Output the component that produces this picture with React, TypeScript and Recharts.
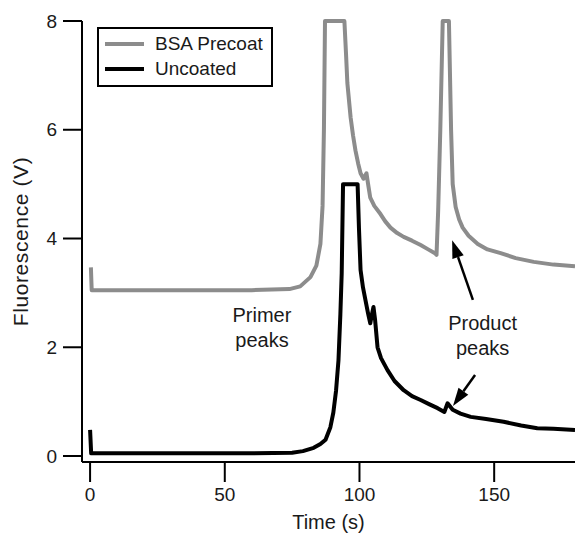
import React from 'react';
import { LineChart, Line, XAxis, YAxis, Legend, ReferenceDot, ReferenceLine, Label } from 'recharts';

const bsaPrecoat: [number, number][] = [
  [0.3, 3.47], [0.6, 3.05], [30, 3.05], [60, 3.05], [74, 3.07], [78, 3.12], [81.8, 3.29], [84, 3.5],
  [85.5, 3.9], [86.3, 4.6], [86.8, 6], [87.2, 8], [94.4, 8], [95, 7.4], [95.5, 6.86], [96.7, 6.23],
  [97.6, 5.9], [98.5, 5.62], [99.5, 5.38], [100.4, 5.2], [101.5, 5.1], [102.6, 5.2], [103.2, 5.0],
  [104, 4.75], [105.5, 4.6], [107.8, 4.45], [109.5, 4.32], [111.5, 4.2], [114, 4.1], [116.4, 4.03],
  [119.5, 3.96], [122.7, 3.88], [125.5, 3.8], [128, 3.73], [128.6, 3.7], [129.2, 4.5],
  [130, 6], [130.9, 8], [133.2, 8], [133.6, 7], [134, 6], [134.6, 5.0], [135.7, 4.58], [137, 4.35],
  [138.3, 4.2], [140.5, 4.05], [143.9, 3.9], [147.5, 3.8], [152.4, 3.73], [158, 3.64], [164.7, 3.57],
  [172, 3.52], [180, 3.49],
];

const uncoated: [number, number][] = [
  [0, 0.48], [0.4, 0.05], [30, 0.05], [60, 0.05], [75, 0.06], [79, 0.09], [83, 0.15], [85.5, 0.22],
  [87.4, 0.3], [89.2, 0.53], [90.3, 0.8], [91.3, 1.2], [92.2, 1.76], [92.9, 2.6], [93.4, 3.36],
  [93.9, 5.0], [99.3, 5.0], [99.8, 4.2], [100.4, 3.42], [101.3, 3.1], [102.2, 2.87], [103.2, 2.62],
  [104, 2.44], [104.6, 2.6], [105.2, 2.74], [105.8, 2.5], [106.7, 2.0], [108, 1.8], [110.4, 1.58],
  [113, 1.38], [116.4, 1.21], [119.5, 1.1], [122.7, 1.03], [126, 0.95], [129, 0.88], [131.5, 0.81],
  [132.7, 0.97], [134.6, 0.85], [137.5, 0.78], [141.3, 0.72], [147, 0.68], [153.5, 0.63],
  [160, 0.56], [166, 0.51], [172, 0.5], [180, 0.48],
];

const xTicks = [0, 50, 100, 150];
const yTicks = [0, 2, 4, 6, 8];

const seriesNames = ['BSA Precoat', 'Uncoated'];
const seriesColors = ['#8c8c8c', '#000000'];

const toRows = (arr: [number, number][]) => arr.map(([t, v]) => ({ t, v }));

const FONT = '"Liberation Sans", Arial, Helvetica, sans-serif';
const TEXT = '#1a1a1a';

const LegendBox = (props: any) => {
  const payload = props.payload || [];
  return (
    <div
      style={{
        border: '2px solid #000',
        padding: '2px 6px 4px 6px',
        width: 176,
        boxSizing: 'border-box',
        whiteSpace: 'nowrap',
        background: '#fff',
        fontFamily: FONT,
        fontSize: 19,
        color: TEXT,
      }}
    >
      {payload.map((p: any) => (
        <div key={p.value} style={{ display: 'flex', alignItems: 'center', height: 25 }}>
          <div style={{ width: 39, height: 4, background: p.color, marginRight: 11, flex: 'none' }} />
          <span style={{ lineHeight: '25px' }}>{p.value}</span>
        </div>
      ))}
    </div>
  );
};

const arrowShape = (props: any) => {
  const { x1, y1, x2, y2 } = props;
  if ([x1, y1, x2, y2].some((v) => typeof v !== 'number' || isNaN(v))) return <g />;
  const dx = x2 - x1;
  const dy = y2 - y1;
  const len = Math.sqrt(dx * dx + dy * dy);
  const ux = dx / len;
  const uy = dy / len;
  const headL = 18;
  const headW = 6;
  const bx = x2 - ux * headL;
  const by = y2 - uy * headL;
  const px = -uy;
  const py = ux;
  return (
    <g>
      <line x1={x1} y1={y1} x2={bx} y2={by} stroke="#000" strokeWidth={2.5} />
      <polygon
        points={`${x2},${y2} ${bx + px * headW},${by + py * headW} ${bx - px * headW},${by - py * headW}`}
        fill="#000"
      />
    </g>
  );
};

const textShape = (lines: string[]) => (props: any) => {
  const { cx, cy } = props;
  return (
    <text x={cx} y={cy} textAnchor="middle" fontFamily={FONT} fontSize={20} fill={TEXT}>
      {lines.map((l, i) => (
        <tspan key={i} x={cx} dy={i === 0 ? 0 : 25}>
          {l}
        </tspan>
      ))}
    </text>
  );
};

const YLabel = (props: any) => {
  const vb = props.viewBox || { x: 0, y: 0, width: 0, height: 0 };
  const cx = vb.x + 20;
  const cy = vb.y + vb.height / 2;
  return (
    <text
      x={cx}
      y={cy}
      transform={`rotate(-90, ${cx}, ${cy})`}
      textAnchor="middle"
      dominantBaseline="central"
      fontFamily={FONT}
      fontSize={21}
      letterSpacing={0.6}
      fill={TEXT}
    >
      Fluorescence (V)
    </text>
  );
};

export default function App() {
  return (
    <div style={{ position: 'absolute', left: 0, top: 0, background: '#fff' }}>
      <LineChart width={575} height={533} margin={{ top: 21, right: 0, bottom: 0, left: 0 }}>
        <XAxis
          type="number"
          dataKey="t"
          domain={[-3, 180]}
          ticks={xTicks}
          tickSize={20}
          tickMargin={6}
          height={71}
          axisLine={{ stroke: '#000', strokeWidth: 2 }}
          tickLine={{ stroke: '#000', strokeWidth: 2 }}
          tick={{ fill: TEXT, fontSize: 19, fontFamily: FONT }}
        >
          <Label
            value="Time (s)"
            position="insideBottom"
            offset={4}
            style={{ fill: TEXT, fontSize: 20, fontFamily: FONT }}
          />
        </XAxis>
        <YAxis
          type="number"
          dataKey="v"
          domain={[-0.11, 8]}
          ticks={yTicks}
          tickSize={19}
          tickMargin={6}
          width={82}
          axisLine={{ stroke: '#000', strokeWidth: 2 }}
          tickLine={{ stroke: '#000', strokeWidth: 2 }}
          tick={{ fill: TEXT, fontSize: 19, fontFamily: FONT }}
        >
          <Label content={<YLabel />} />
        </YAxis>
        <Legend
          layout="vertical"
          align="center"
          verticalAlign="middle"
          wrapperStyle={{ top: 27, left: 97, width: 'auto', height: 'auto' }}
          content={<LegendBox />}
        />
        <Line
          data={toRows(bsaPrecoat)}
          dataKey="v"
          name={seriesNames[0]}
          stroke={seriesColors[0]}
          strokeWidth={4}
          strokeLinejoin="round"
          dot={false}
          activeDot={false}
          type="linear"
          isAnimationActive={false}
        />
        <Line
          data={toRows(uncoated)}
          dataKey="v"
          name={seriesNames[1]}
          stroke={seriesColors[1]}
          strokeWidth={4}
          strokeLinejoin="round"
          dot={false}
          activeDot={false}
          type="linear"
          isAnimationActive={false}
        />
        <ReferenceDot x={63.8} y={2.46} r={0} shape={textShape(['Primer', 'peaks'])} />
        <ReferenceDot x={145.7} y={2.32} r={0} shape={textShape(['Product', 'peaks'])} />
        <ReferenceLine
          segment={[{ x: 142.1, y: 2.87 }, { x: 134.4, y: 3.97 }]}
          shape={arrowShape}
        />
        <ReferenceLine
          segment={[{ x: 142.9, y: 1.49 }, { x: 134.7, y: 0.92 }]}
          shape={arrowShape}
        />
      </LineChart>
    </div>
  );
}
